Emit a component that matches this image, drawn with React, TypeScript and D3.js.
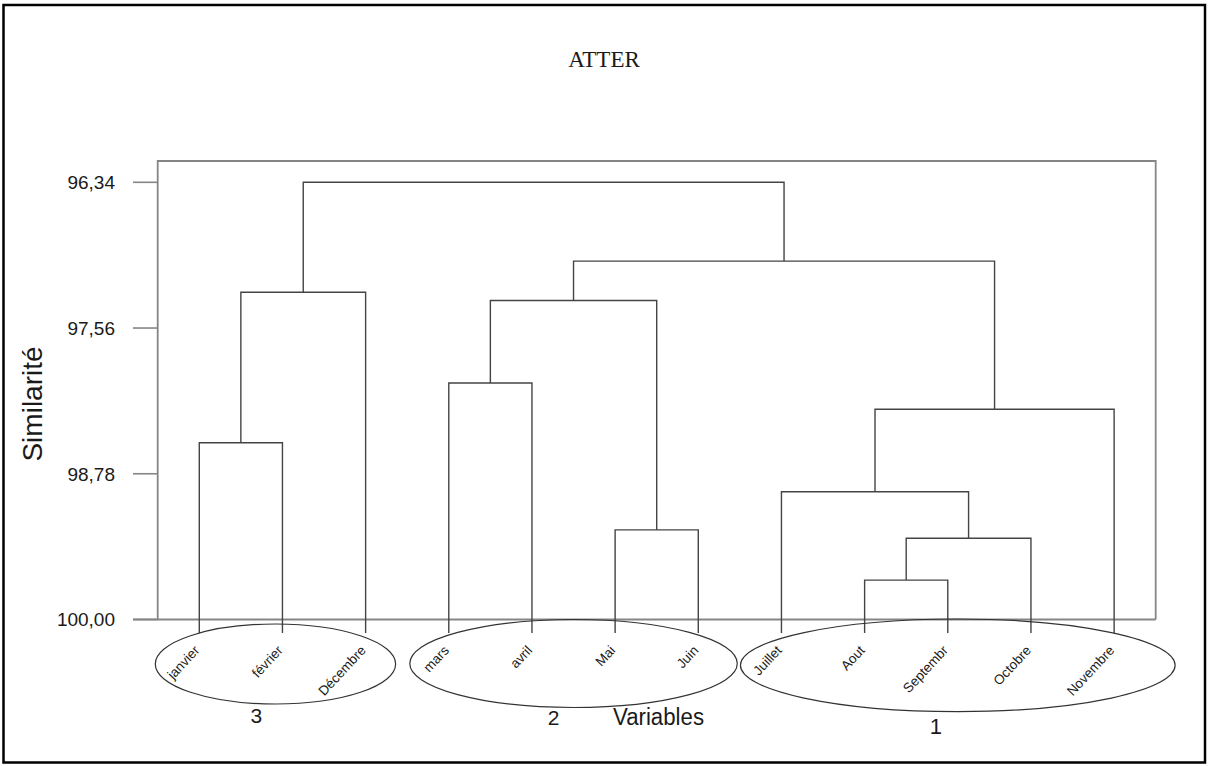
import React from "react";
import * as d3 from "d3";

// Variables (months) in dendrogram leaf order
const LEAVES = [
  "janvier", "février", "Décembre",
  "mars", "avril", "Mai", "Juin",
  "Juillet", "Aout", "Septembr", "Octobre", "Novembre",
];

// Agglomeration steps: [node A, node B, similarity level]
// Leaf ids are 0..11, each step creates node 12, 13, ...
const MERGES: [number, number, number][] = [
  [8, 9, 99.67],   // 12 Aout + Septembr
  [12, 10, 99.32], // 13 + Octobre
  [5, 6, 99.25],   // 14 Mai + Juin
  [7, 13, 98.93],  // 15 Juillet + ...
  [0, 1, 98.52],   // 16 janvier + février
  [15, 11, 98.24], // 17 + Novembre
  [3, 4, 98.02],   // 18 mars + avril
  [18, 14, 97.33], // 19
  [16, 2, 97.26],  // 20 + Décembre
  [19, 17, 97.0],  // 21
  [20, 21, 96.34], // 22 root
];

const Y_TICKS = [96.34, 97.56, 98.78, 100.0];
const Y_DOMAIN: [number, number] = [96.34, 100.0];

// Final partition into 3 clusters
const CLUSTER_NAMES = ["3", "2", "1"];
const CLUSTER_MEMBERS = [
  ["janvier", "février", "Décembre"],
  ["mars", "avril", "Mai", "Juin"],
  ["Juillet", "Aout", "Septembr", "Octobre", "Novembre"],
];

const TITLE = "ATTER";
const X_TITLE = "Variables";
const Y_TITLE = "Similarité";

// Layout
const W = 1209;
const H = 766;
const BOX = { left: 157.7, right: 1155.7, top: 161, bottom: 619.5 };
const Y_TOP_PX = 182.3;
const STEM_EXT = 13.5;
const TREE_COLOR = "#444";
const BOX_COLOR = "#858585";
const TEXT_COLOR = "#1a1a1a";
const SANS = "'Liberation Sans', Arial, sans-serif";
const SERIF = "'Liberation Serif', 'Times New Roman', serif";

// Ellipse geometry around each cluster (offsets relative to members' x span)
const ELLIPSE_LAYOUT = [
  { dx: -7, padX: 37, cy: 664, ry: 40, labelDx: -26, labelY: 723, labelSize: 21 },
  { dx: 0, padX: 39, cy: 663.5, ry: 44, labelDx: -20, labelY: 724.5, labelSize: 21 },
  { dx: 10, padX: 51, cy: 665.3, ry: 46.3, labelDx: -12, labelY: 734, labelSize: 22 },
];

const fmt = (v: number) => d3.format(".2f")(v).replace(".", ",");

export default function App() {
  const x = d3
    .scalePoint<string>()
    .domain(LEAVES)
    .range([BOX.left, BOX.right])
    .padding(0.5);

  const y = d3.scaleLinear().domain(Y_DOMAIN).range([Y_TOP_PX, BOX.bottom]);

  // node positions
  const nx: number[] = LEAVES.map((l) => x(l) as number);
  const ny: number[] = LEAVES.map(() => y(100) + STEM_EXT);
  const segments: string[] = [];
  MERGES.forEach(([a, b, s]) => {
    const yy = y(s);
    const xa = nx[a];
    const xb = nx[b];
    segments.push(`M${xa},${ny[a]}V${yy}H${xb}V${ny[b]}`);
    nx.push((xa + xb) / 2);
    ny.push(yy);
  });

  return (
    <div style={{ position: "absolute", left: 0, top: 0 }}>
      <svg width={W} height={H} style={{ display: "block", background: "#fff" }}>
        <rect x={0} y={0} width={W} height={H} fill="#fff" />
        {/* outer frame */}
        <rect x={3.5} y={5} width={1201.5} height={757.5} fill="none" stroke="#000" strokeWidth={2.5} />

        {/* title */}
        <text x={604} y={67} textAnchor="middle" fontFamily={SERIF} fontSize={23} fill={TEXT_COLOR}>
          {TITLE}
        </text>

        {/* plot box */}
        <path
          d={`M${BOX.left},${BOX.bottom}V${BOX.top}H${BOX.right}V${BOX.bottom}`}
          fill="none"
          stroke={BOX_COLOR}
          strokeWidth={1.8}
        />
        <line x1={133} x2={BOX.right} y1={BOX.bottom} y2={BOX.bottom} stroke={BOX_COLOR} strokeWidth={1.8} />

        {/* y axis ticks */}
        {Y_TICKS.map((t) => (
          <g key={t}>
            <line x1={133} x2={BOX.left} y1={y(t)} y2={y(t)} stroke={BOX_COLOR} strokeWidth={1.6} />
            <text
              x={115}
              y={y(t) + 0.358 * 19}
              textAnchor="end"
              fontFamily={SANS}
              fontSize={19}
              fill={TEXT_COLOR}
            >
              {fmt(t)}
            </text>
          </g>
        ))}

        {/* y title */}
        <text
          transform={`translate(42,404) rotate(-90)`}
          textAnchor="middle"
          fontFamily={SANS}
          fontSize={28}
          fill={TEXT_COLOR}
        >
          {Y_TITLE}
        </text>

        {/* dendrogram */}
        {segments.map((d, i) => (
          <path key={i} d={d} fill="none" stroke={TREE_COLOR} strokeWidth={1.4} />
        ))}

        {/* leaf labels */}
        {LEAVES.map((l) => (
          <text
            key={l}
            transform={`translate(${(x(l) as number) + 1},651) rotate(-47)`}
            textAnchor="end"
            fontFamily={SANS}
            fontSize={13.5}
            fill={TEXT_COLOR}
          >
            {l}
          </text>
        ))}

        {/* cluster ellipses */}
        {CLUSTER_MEMBERS.map((members, i) => {
          const xs = members.map((m) => x(m) as number);
          const lo = d3.min(xs) as number;
          const hi = d3.max(xs) as number;
          const mid = (lo + hi) / 2;
          const L = ELLIPSE_LAYOUT[i];
          return (
            <g key={CLUSTER_NAMES[i]}>
              <ellipse
                cx={mid + L.dx}
                cy={L.cy}
                rx={(hi - lo) / 2 + L.padX}
                ry={L.ry}
                fill="none"
                stroke="#333"
                strokeWidth={1.2}
              />
              <text
                x={mid + L.labelDx}
                y={L.labelY}
                textAnchor="middle"
                fontFamily={SANS}
                fontSize={L.labelSize}
                fill={TEXT_COLOR}
              >
                {CLUSTER_NAMES[i]}
              </text>
            </g>
          );
        })}

        {/* x title */}
        <text
          x={613}
          y={725}
          fontFamily={SANS}
          fontSize={23}
          textLength={91}
          lengthAdjust="spacingAndGlyphs"
          fill={TEXT_COLOR}
        >
          {X_TITLE}
        </text>
      </svg>
    </div>
  );
}
